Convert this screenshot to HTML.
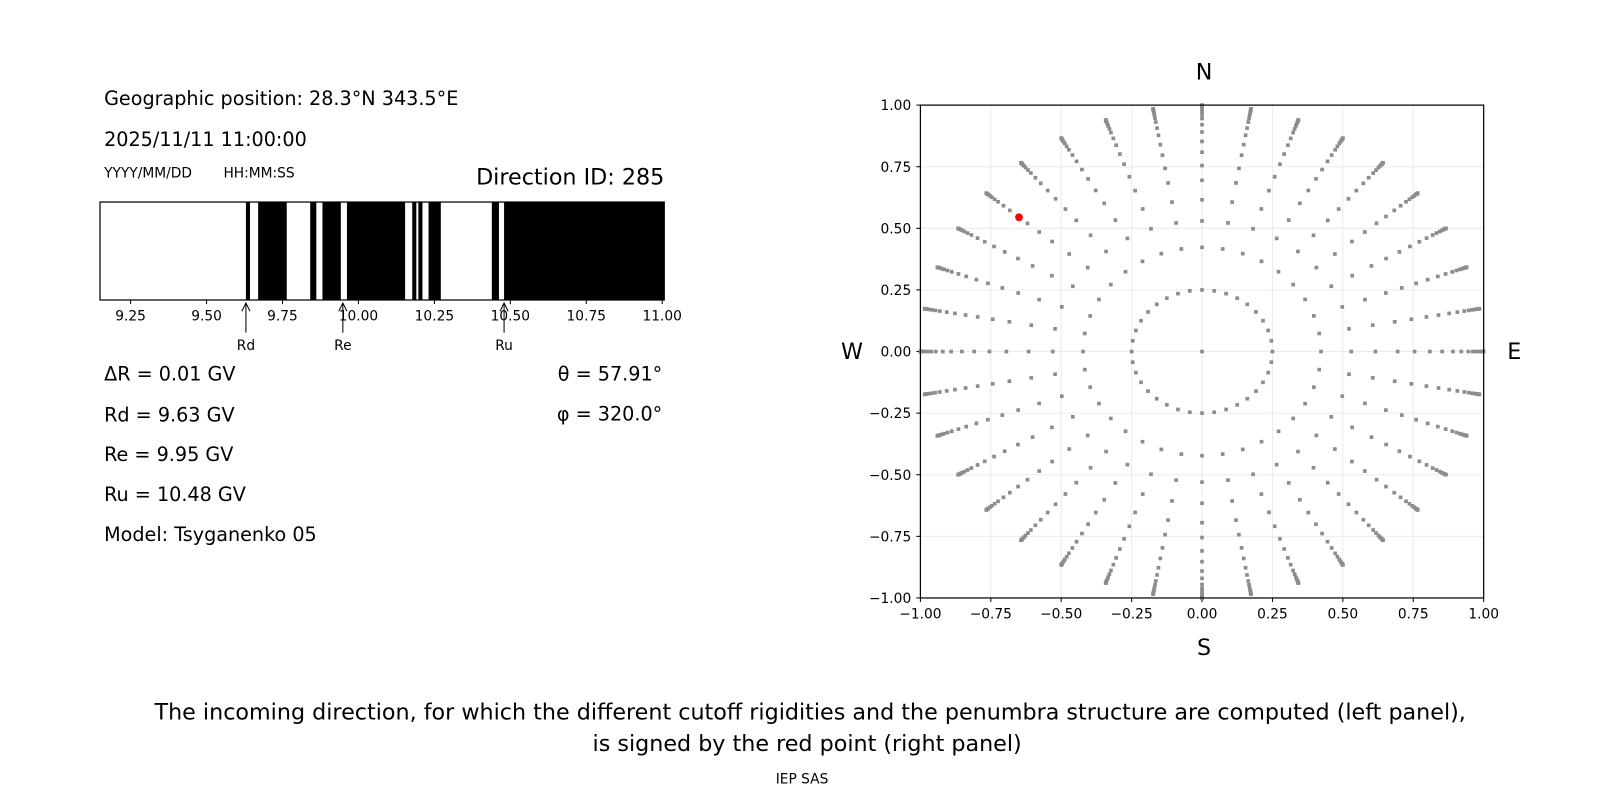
<!DOCTYPE html>
<html><head><meta charset="utf-8"><style>
body{margin:0;background:#fff;}
svg{display:block;font-family:"DejaVu Sans","Liberation Sans",sans-serif;}
</style></head><body>
<svg id="s" width="1600" height="800" viewBox="0 0 1600 800" xmlns="http://www.w3.org/2000/svg">
<rect width="1600" height="800" fill="#fff"/>
<g transform="scale(1.0204)">
<g font-size="18.8" fill="#000">
<text x="102" y="103">Geographic position: 28.3°N 343.5°E</text>
<text x="102" y="143">2025/11/11 11:00:00</text>
<text x="102" y="174" font-size="13.5">YYYY/MM/DD</text>
<text x="219" y="174" font-size="13.5">HH:MM:SS</text>
<text x="651" y="181" font-size="21.8" text-anchor="end">Direction ID: 285</text>
<text x="102" y="373">ΔR = 0.01 GV</text>
<text x="102" y="413">Rd = 9.63 GV</text>
<text x="102" y="452">Re = 9.95 GV</text>
<text x="102" y="491">Ru = 10.48 GV</text>
<text x="102" y="530">Model: Tsyganenko 05</text>
<text x="649" y="373" text-anchor="end">θ = 57.91°</text>
<text x="649" y="412" text-anchor="end">φ = 320.0°</text>
</g>
<g id="bar"></g>
<rect x="98" y="198" width="553" height="96" fill="none" stroke="#000" stroke-width="1.2"/>
<g id="polar"></g>
<g font-size="21.8" text-anchor="middle">
<text x="1180" y="78">N</text>
<text x="1180" y="642">S</text>
<text x="835" y="352">W</text>
<text x="1484" y="352">E</text>
<text x="794" y="705">The incoming direction, for which the different cutoff rigidities and the penumbra structure are computed (left panel),</text>
<text x="791" y="736">is signed by the red point (right panel)</text>
<text x="786" y="768" font-size="13.5">IEP SAS</text>
</g>
</g>
</svg>
<script>
const NS="http://www.w3.org/2000/svg";
function el(p,t,a,txt){const e=document.createElementNS(NS,t);for(const k in a)e.setAttribute(k,a[k]);if(txt!==undefined)e.textContent=txt;p.appendChild(e);return e;}
const bar=document.getElementById('bar');
const px=v=>128+(v-9.25)*297.7;
const bands=[[241,245],[253,281],[304,310],[316,334],[340,397],[404,408],[410,414],[420,432],[482,489],[494,651]];
bands.forEach(b=>{el(bar,'rect',{x:b[0],y:198,width:b[1]-b[0],height:96,fill:'#000'});});
[9.25,9.5,9.75,10,10.25,10.5,10.75,11].forEach(v=>{const x=px(v);el(bar,'line',{x1:x,y1:294,x2:x,y2:298,stroke:'#000'});el(bar,'text',{x:x,y:314,'font-size':13.5,'text-anchor':'middle'},v.toFixed(2));});
[[241,'Rd'],[336,'Re'],[494,'Ru']].forEach(a=>{el(bar,'line',{x1:a[0],y1:298,x2:a[0],y2:326,stroke:'#000'});el(bar,'path',{d:`M${a[0]-4} ${305}L${a[0]} 297L${a[0]+4} 305`,fill:'none',stroke:'#000'});el(bar,'text',{x:a[0],y:343,'font-size':13.5,'text-anchor':'middle'},a[1]);});
const P=document.getElementById('polar');
const cx=1178,cy=344.5,sx=276,sy=241.5;
const X=v=>cx+v*sx,Y=v=>cy-v*sy;
const fmt=v=>(v<0?'\u2212':'')+Math.abs(v).toFixed(2);
[-1,-0.75,-0.5,-0.25,0,0.25,0.5,0.75,1].forEach(v=>{
el(P,'line',{x1:X(v),y1:103,x2:X(v),y2:586,stroke:'#ebebeb'});
el(P,'line',{x1:902,y1:Y(v),x2:1454,y2:Y(v),stroke:'#ebebeb'});
el(P,'line',{x1:X(v),y1:586,x2:X(v),y2:590,stroke:'#000'});
el(P,'line',{x1:898,y1:Y(v),x2:902,y2:Y(v),stroke:'#000'});
el(P,'text',{x:X(v),y:606,'font-size':13.5,'text-anchor':'middle'},fmt(v));
el(P,'text',{x:893,y:Y(v)+5,'font-size':13.5,'text-anchor':'end'},fmt(v));
});
function dot(x,y){el(P,'rect',{x:X(x)-1.8,y:Y(y)-1.8,width:3.6,height:3.6,fill:'#8c8c8c'});}
dot(0,0);
for(let a=0;a<360;a+=10){const r=0.25,t=a*Math.PI/180;dot(r*Math.sin(t),r*Math.cos(t));}
const zen=[25,32,38,44,49,54,58.5,63,67,71,74,77,79.5,82,84,86,88,90];
for(let a=0;a<360;a+=10){const t=a*Math.PI/180;zen.forEach(z=>{const r=Math.sin(z*Math.PI/180);dot(r*Math.sin(t),r*Math.cos(t));});}
el(P,'circle',{cx:X(-0.65),cy:Y(0.545),r:3.8,fill:'#ff0000'});
el(P,'rect',{x:902,y:103,width:552,height:483,fill:'none',stroke:'#000','stroke-width':1.2});
</script>
</body></html>
